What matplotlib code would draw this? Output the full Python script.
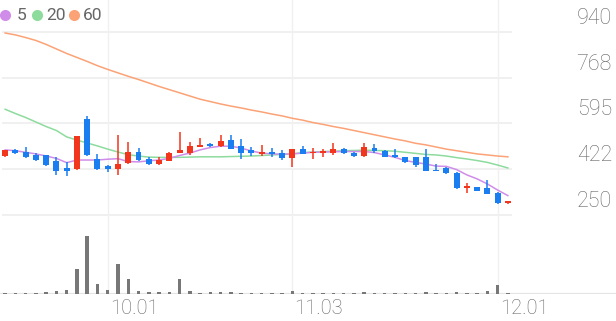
import numpy as np
import matplotlib
matplotlib.use('Agg')
from matplotlib import pyplot as plt
from matplotlib import transforms
from matplotlib.lines import Line2D

# ── Data ──────────────────────────────────────────────────────────────────────
opens  = [473, 495, 486, 476, 476, 453, 426, 422, 611, 461,
          434, 424, 447, 488, 461, 442, 453, 485, 482, 506,
          516, 509, 532, 510, 495, 479, 488, 485, 463, 497,
          482, 482, 482, 497, 485, 472, 502, 491, 476, 468,
          467, 467, 419, 426, 407, 352, 357, 351, 334, 294]
highs  = [496, 498, 507, 485, 477, 467, 450, 548, 623, 479,
          438, 551, 524, 503, 467, 467, 488, 561, 524, 539,
          521, 551, 552, 535, 505, 514, 501, 495, 499, 510,
          503, 498, 522, 501, 486, 522, 516, 495, 497, 470,
          469, 497, 442, 432, 412, 369, 357, 382, 335, 303]
lows   = [467, 480, 466, 455, 436, 399, 396, 421, 473, 419,
          413, 401, 443, 455, 440, 440, 452, 484, 476, 505,
          507, 507, 497, 462, 473, 472, 470, 457, 432, 478,
          460, 470, 476, 479, 470, 470, 484, 467, 465, 445,
          432, 416, 414, 405, 349, 334, 341, 328, 293, 293]
closes = [495, 482, 470, 457, 438, 417, 417, 547, 476, 422,
          424, 441, 486, 457, 442, 457, 482, 495, 510, 515,
          509, 530, 498, 482, 485, 486, 479, 463, 497, 480,
          488, 491, 497, 485, 472, 507, 492, 470, 467, 451,
          438, 417, 415, 407, 351, 354, 342, 329, 294, 303]
volumes = [30, 20, 20, 20, 40, 60, 80, 494, 1160, 200,
           80, 600, 300, 60, 40, 40, 50, 300, 60, 30,
           40, 40, 40, 20, 20, 20, 20, 30, 60, 30,
           20, 20, 30, 20, 20, 40, 20, 20, 20, 20,
           20, 40, 20, 20, 50, 30, 30, 60, 174, 30]

ma5  = [495, 492, 486, 480, 472, 463, 447, 457, 457, 457,
        460, 462, 451, 450, 454, 457, 463, 474, 483, 495,
        504, 509, 509, 502, 491, 483, 480, 479, 480, 483,
        486, 487, 488, 489, 489, 489, 485, 476, 467, 455,
        448, 442, 434, 433, 421, 401, 386, 367, 344, 323]
ma20 = [648, 632, 617, 600, 583, 568, 544, 532, 521, 510,
        498, 487, 477, 472, 468, 467, 467, 467, 468, 469,
        469, 469, 470, 471, 472, 474, 476, 478, 480, 485,
        487, 489, 490, 492, 493, 494, 493, 492, 490, 486,
        482, 478, 476, 472, 466, 461, 455, 448, 438, 427]
ma60 = [935, 928, 918, 907, 892, 875, 858, 843, 828, 812,
        798, 785, 772, 760, 747, 734, 722, 710, 698, 686,
        677, 668, 660, 653, 645, 638, 630, 623, 614, 607,
        598, 591, 583, 576, 568, 560, 552, 544, 536, 529,
        520, 514, 506, 498, 492, 486, 480, 476, 472, 469]

price_ticks  = [250, 422.5, 595, 767.5, 940]
price_labels = ['250', '422', '595', '768', '940']
date_pos     = [10, 28, 48]
date_labels  = ['10.01', '11.03', '12.01']
ma_names     = ['5', '20', '60']

# ── Style ─────────────────────────────────────────────────────────────────────
UP, DOWN   = '#f2361d', '#1a7df0'
MA_COLORS  = ['#cf8de9', '#8edb9e', '#fba276']
GRID       = '#f0f0f0'
TXT        = '#666666'
plt.rcParams['font.family'] = ['Roboto', 'DejaVu Sans']

W, H = 616, 321
fig = plt.figure(figsize=(W / 100, H / 100), dpi=100)

ax  = fig.add_axes([0, (H - 225) / H, 513 / W, 225 / H])
axv = fig.add_axes([0, (H - 294) / H, 1, 69 / H])
for a in (ax, axv):
    a.set_facecolor('none')
    for s in a.spines.values():
        s.set_visible(False)
    a.set_xticks([])
    a.set_yticks([])
ax.set_zorder(2)

n = len(closes)
x = np.arange(n)
ppx = (215 - 31.7) / (940 - 250)          # pixels per price unit
ax.set_xlim(-0.5, n - 0.5)
ax.set_ylim(250 - 10 / ppx, 250 + 215 / ppx)
step = 513 / n
axv.set_xlim(-0.5, -0.5 + W / step)
axv.set_ylim(0, 1380)

# grid
for t in price_ticks:
    ax.axhline(t, xmin=3 / 513, xmax=511 / 513, color=GRID, lw=1.4, zorder=0)
for p in date_pos:
    ax.axvline(p, color=GRID, lw=1.0, zorder=0)
    axv.axvline(p, ymax=1.0, color=GRID, lw=1.0, zorder=0)
axv.axhline(0, color='#e4e4e4', lw=1.6, zorder=1)

# moving averages
for vals, c in zip([ma60, ma20, ma5], MA_COLORS[::-1]):
    ax.plot(x, vals, color=c, lw=1.1, zorder=2)

# candles
o, h, l, c = map(np.array, (opens, highs, lows, closes))
col = np.where(c >= o, UP, DOWN)
min_body = 1.6 / ppx
body = np.maximum(np.abs(c - o), min_body)
ax.vlines(x, l, h, colors=col, lw=1.1, zorder=3)
ax.bar(x, body, bottom=np.minimum(o, c), width=0.58, color=col, zorder=4)

# volume
axv.bar(x, volumes, width=0.34, color='#777777', zorder=2)

# right price labels (sit just above their gridline)
lab_tr = transforms.offset_copy(
    transforms.blended_transform_factory(fig.transFigure, ax.transData),
    fig=fig, x=0, y=13.5, units='dots')
for t, s in zip(price_ticks, price_labels):
    fig.text(612 / W, t, s, transform=lab_tr, ha='right', va='center',
             fontsize=15.5, color=TXT, fontweight='light')

# date labels (left aligned on their gridline)
date_tr = transforms.offset_copy(axv.get_xaxis_transform(), fig=fig,
                                 x=2, y=-15, units='dots')
for p, s in zip(date_pos, date_labels):
    axv.text(p, 0, s, transform=date_tr, ha='left', va='center',
             fontsize=14.5, color=TXT, fontweight='light')

# legend
for (dx, tx), name, cc in zip([(5.3, 16.5), (36.7, 46.5), (74, 82.5)], ma_names, MA_COLORS):
    fig.add_artist(Line2D([dx / W], [1 - 15.3 / H], transform=fig.transFigure,
                          marker='o', ms=8, color=cc, mec='none', ls='none'))
    fig.text(tx / W, 1 - 15.3 / H, name, ha='left', va='center',
             fontsize=12.5, color=TXT)

fig.savefig('out.png', dpi=100)
